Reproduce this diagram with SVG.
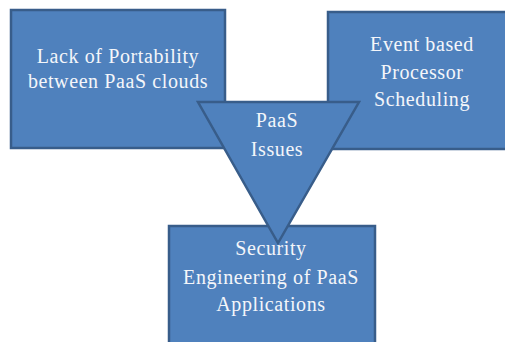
<svg xmlns="http://www.w3.org/2000/svg" width="505" height="342" viewBox="0 0 505 342">
<style>
.shape{fill:#4F81BD;stroke:#385D8A;stroke-width:2.5;stroke-linejoin:miter}
.t{font-family:"Liberation Serif","Times New Roman",serif;font-size:20px;letter-spacing:0.6px;fill:#F4F6FA;text-anchor:middle}
</style>
<rect width="505" height="342" fill="#FFFFFF"/>
<g id="node-portability">
<rect class="shape" x="11" y="10" width="214" height="138"/>
<text class="t" x="118" y="63">Lack of Portability</text>
<text class="t" x="118" y="88">between PaaS clouds</text>
</g>
<g id="node-scheduling">
<rect class="shape" x="328" y="12" width="190" height="137"/>
<text class="t" x="422" y="51">Event based</text>
<text class="t" x="422" y="79">Processor</text>
<text class="t" x="422" y="106">Scheduling</text>
</g>
<g id="node-security">
<rect class="shape" x="169" y="226" width="206" height="125"/>
<text class="t" x="271" y="255">Security</text>
<text class="t" x="271" y="284">Engineering of PaaS</text>
<text class="t" x="271" y="311">Applications</text>
</g>
<g id="node-paas-issues">
<polygon class="shape" points="198,102 359,102 278,243"/>
<text class="t" x="277" y="127">PaaS</text>
<text class="t" x="277" y="156">Issues</text>
</g>
<g id="connectors"></g>
</svg>
